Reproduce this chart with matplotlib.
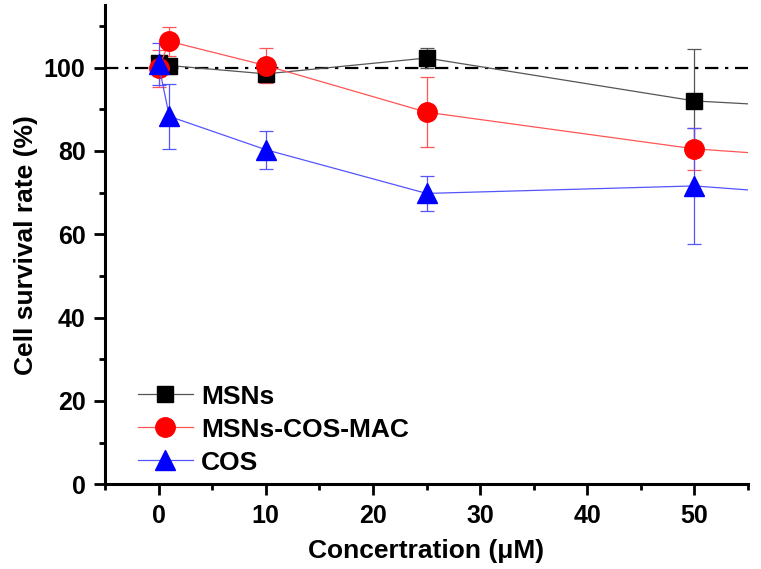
import numpy as np
import matplotlib.pyplot as plt

plt.rcParams['font.family'] = ['Liberation Sans', 'DejaVu Sans']
plt.rcParams['font.weight'] = 'bold'

# concentrations (uM); the 100 uM point sits outside the visible range
conc = [0, 1, 10, 25, 50, 100]

msn = [101.0, 100.5, 98.5, 102.3, 92.0, 85.0]
msn_err = [1.0, 1.0, 1.5, 2.4, 12.5, 3.0]

mac = [99.8, 106.3, 100.5, 89.3, 80.5, 71.5]
mac_err = [4.5, 3.5, 4.3, 8.4, 5.0, 3.0]

cos = [100.8, 88.3, 80.3, 69.8, 71.6, 62.0]
cos_err = [5.0, 7.8, 4.6, 4.3, 14.0, 3.0]

fig = plt.figure(figsize=(7.61, 5.69), dpi=100)
ax = fig.add_axes([0.138, 0.149, 0.845, 0.842])

ax.axhline(100, color='black', lw=1.6, ls=(0, (6, 3, 1.5, 3)), zorder=1)

series = [
    (msn, msn_err, 'MSNs', 's', 'black', '#555555', 12),
    (mac, mac_err, 'MSNs-COS-MAC', 'o', 'red', '#ff5555', 14),
    (cos, cos_err, 'COS', '^', 'blue', '#5555ff', 15),
]
handles = []
for y, e, lab, m, c, lc, ms in series:
    cont = ax.errorbar(conc, y, yerr=e, color=lc, lw=0.9, elinewidth=0.9, capsize=5,
                       capthick=0.9, marker=m, markersize=ms, markerfacecolor=c,
                       markeredgecolor=c, label=lab, zorder=3)
    handles.append(cont[0])

ax.set_xlim(-5, 55)
ax.set_ylim(0, 115)
ax.set_xticks([0, 10, 20, 30, 40, 50])
ax.set_xticks([-5, 5, 15, 25, 35, 45, 55], minor=True)
ax.set_yticks([0, 20, 40, 60, 80, 100])
ax.set_yticks([10, 30, 50, 70, 90, 110], minor=True)

for s in ['top', 'right']:
    ax.spines[s].set_visible(False)
for s in ['left', 'bottom']:
    ax.spines[s].set_linewidth(2.2)

ax.tick_params(which='major', direction='out', length=8, width=2, labelsize=18, pad=6)
ax.tick_params(which='minor', direction='out', length=4, width=2)

ax.set_xlabel('Concertration (μM)', fontsize=19, fontweight='bold', labelpad=8)
ax.set_ylabel('Cell survival rate (%)', fontsize=19, fontweight='bold', labelpad=4)

leg = ax.legend(handles, [s[2] for s in series], loc='lower left',
                bbox_to_anchor=(0.018, -0.024), frameon=False, fontsize=19,
                handlelength=2.1, handletextpad=0.3, labelspacing=0.34,
                borderpad=0.3)

fig.savefig('out.png', dpi=100)
